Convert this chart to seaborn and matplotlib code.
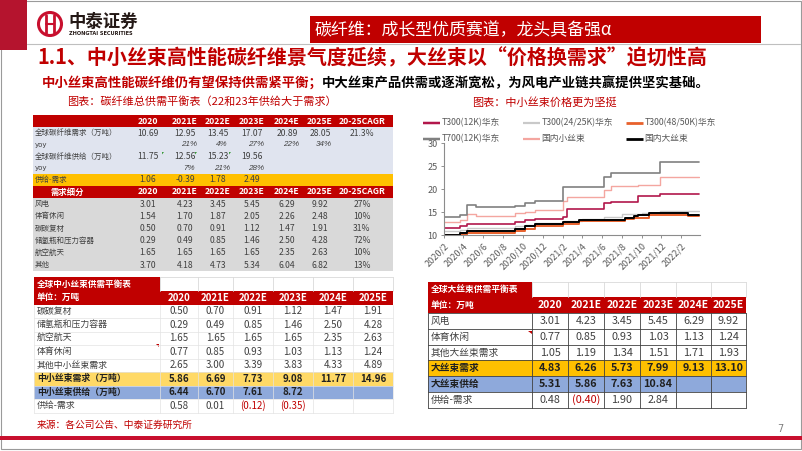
import matplotlib
matplotlib.use("Agg")
import matplotlib.pyplot as plt
from matplotlib.patches import Rectangle, Circle, Polygon
import pandas as pd
import seaborn as sns

sns.set_theme(style="white")
CJK = ["Noto Sans CJK SC", "DejaVu Sans"]
NUM = ["Liberation Sans Narrow", "Noto Sans CJK SC", "DejaVu Sans"]
plt.rcParams["font.family"] = CJK
plt.rcParams["axes.unicode_minus"] = False

RED = "#C00000"
W, H = 802, 451

# ---------------- data ----------------
years = ["2020", "2021E", "2022E", "2023E", "2024E", "2025E"]

# total carbon fibre balance
total_demand = [10.69, 12.95, 13.45, 17.07, 20.89, 28.05]
total_demand_cagr = "21.3%"
demand_yoy = ["", "21%", "4%", "27%", "22%", "34%"]
total_supply = [11.75, 12.56, 15.23, 19.56]
supply_yoy = ["", "7%", "21%", "28%"]
total_gap = [1.06, -0.39, 1.78, 2.49]
seg_labels = ["风电", "体育休闲", "碳碳复材", "储氢瓶和压力容器", "航空航天", "其他"]
seg_values = [
    [3.01, 4.23, 3.45, 5.45, 6.29, 9.92],
    [1.54, 1.70, 1.87, 2.05, 2.26, 2.48],
    [0.50, 0.70, 0.91, 1.12, 1.47, 1.91],
    [0.29, 0.49, 0.85, 1.46, 2.50, 4.28],
    [1.65, 1.65, 1.65, 1.65, 2.35, 2.63],
    [3.70, 4.18, 4.73, 5.34, 6.04, 6.82],
]
seg_cagr = ["27%", "10%", "31%", "72%", "10%", "13%"]

# small tow balance
small_labels = ["碳碳复材", "储氢瓶和压力容器", "航空航天", "体育休闲", "其他中小丝束需求"]
small_values = [
    [0.50, 0.70, 0.91, 1.12, 1.47, 1.91],
    [0.29, 0.49, 0.85, 1.46, 2.50, 4.28],
    [1.65, 1.65, 1.65, 1.65, 2.35, 2.63],
    [0.77, 0.85, 0.93, 1.03, 1.13, 1.24],
    [2.65, 3.00, 3.39, 3.83, 4.33, 4.89],
]
small_demand = [5.86, 6.69, 7.73, 9.08, 11.77, 14.96]
small_supply = [6.44, 6.70, 7.61, 8.72]
small_gap = [0.58, 0.01, -0.12, -0.35]

# large tow balance
large_labels = ["风电", "体育休闲", "其他大丝束需求"]
large_values = [
    [3.01, 4.23, 3.45, 5.45, 6.29, 9.92],
    [0.77, 0.85, 0.93, 1.03, 1.13, 1.24],
    [1.05, 1.19, 1.34, 1.51, 1.71, 1.93],
]
large_demand = [4.83, 6.26, 5.73, 7.99, 9.13, 13.10]
large_supply = [5.31, 5.86, 7.63, 10.84]
large_gap = [0.48, -0.40, 1.90, 2.84]

# price series (step change dates / prices, last point = end of data)
t300_12k_dates = ["2020-02-01", "2020-03-22", "2020-04-13", "2020-09-07", "2020-10-07", "2020-11-07",
                  "2021-02-01", "2021-02-13", "2021-06-07", "2021-06-28", "2021-09-19", "2021-11-28", "2022-03-28"]
t300_12k_price = [11.6, 12.0, 12.5, 12.8, 13.2, 13.5, 14.0, 15.7, 16.9, 17.3, 18.6, 19.0, 19.0]
t300_24k_dates = ["2020-02-01", "2020-03-22", "2020-04-13", "2020-09-07", "2020-10-07", "2020-11-07",
                  "2021-02-01", "2021-04-01", "2021-06-07", "2021-08-01", "2021-10-01", "2021-11-28", "2022-03-28"]
t300_24k_price = [10.9, 11.0, 11.6, 12.0, 12.2, 12.6, 13.1, 13.4, 14.0, 14.5, 14.9, 15.3, 15.3]
t300_48k_dates = ["2020-02-01", "2020-04-13", "2020-09-07", "2020-10-07", "2020-11-07", "2021-02-01",
                  "2021-03-22", "2021-08-10", "2021-09-07", "2021-10-25", "2022-02-22", "2022-03-28"]
t300_48k_price = [10.0, 10.4, 10.9, 11.4, 11.9, 12.4, 13.0, 13.4, 13.8, 14.4, 14.1, 14.1]
t700_12k_dates = ["2020-02-01", "2020-03-22", "2020-04-13", "2020-05-11", "2020-09-07", "2020-10-07",
                  "2020-11-07", "2021-02-01", "2021-06-07", "2021-06-28", "2021-11-28", "2022-03-28"]
t700_12k_price = [14.0, 14.3, 16.6, 16.0, 16.4, 16.9, 17.5, 20.5, 22.6, 23.5, 26.0, 26.0]
small_tow_dates = ["2020-02-01", "2020-03-22", "2020-04-13", "2020-05-11", "2020-09-07", "2020-10-07",
                   "2020-11-07", "2021-02-01", "2021-02-13", "2021-06-07", "2021-06-28", "2021-09-19",
                   "2021-11-28", "2022-03-28"]
small_tow_price = [12.8, 13.3, 14.5, 14.2, 14.7, 15.0, 15.5, 17.4, 18.2, 19.8, 20.6, 21.0, 22.6, 22.6]
large_tow_dates = ["2020-02-01", "2020-03-22", "2020-04-13", "2020-09-07", "2020-10-07", "2020-11-07",
                   "2021-02-01", "2021-03-22", "2021-08-10", "2021-09-07", "2021-09-19", "2021-10-25",
                   "2022-02-22", "2022-03-28"]
large_tow_price = [10.0, 10.5, 10.9, 11.4, 12.0, 12.4, 12.9, 13.3, 13.7, 14.1, 14.3, 14.8, 14.4, 14.4]

tick_labels = ["2020/2", "2020/4", "2020/6", "2020/8", "2020/10", "2020/12", "2021/2",
               "2021/4", "2021/6", "2021/8", "2021/10", "2021/12", "2022/2"]

series = [
    ("T300(24/25K)华东", t300_24k_dates, t300_24k_price, "#C9C9C9", 1.0),
    ("T300(48/50K)华东", t300_48k_dates, t300_48k_price, "#E8612C", 1.4),
    ("国内大丝束", large_tow_dates, large_tow_price, "#000000", 1.4),
    ("T300(12K)华东", t300_12k_dates, t300_12k_price, "#B2174B", 1.2),
    ("国内小丝束", small_tow_dates, small_tow_price, "#F4A6A0", 1.0),
    ("T700(12K)华东", t700_12k_dates, t700_12k_price, "#808080", 1.2),
]
frames = [pd.DataFrame({"date": pd.to_datetime(d), "price": p, "series": name})
          for name, d, p, _, _ in series]
prices = pd.concat(frames, ignore_index=True)

# ---------------- canvas ----------------
fig = plt.figure(figsize=(W / 100, H / 100), dpi=100)
bg = fig.add_axes([0, 0, 1, 1])
bg.set_xlim(0, W)
bg.set_ylim(H, 0)
bg.axis("off")


def box(x0, y0, x1, y1, color, ec="none", lw=0):
    bg.add_patch(Rectangle((x0, y0), x1 - x0, y1 - y0, facecolor=color, edgecolor=ec, linewidth=lw))


def txt(x, y, s, size, color="black", ha="left", weight="normal", family=None):
    bg.text(x, y, s, fontsize=size, color=color, ha=ha, va="center", fontweight=weight,
            family=family or CJK)


def fmt(v):
    return f"({abs(v):.2f})" if v < 0 else f"{v:.2f}"


# header
bg.add_patch(Rectangle((1, 1), W - 2, H - 3, fill=False, edgecolor="#9A9A9A", linewidth=0.8))
box(0, 0, 27, 50, "#B5142E")
bg.plot([27, 800], [44, 44], color="#BFBFBF", lw=0.8)
bg.add_patch(Circle((50, 24), 11.5, fill=False, edgecolor="#C8102E", linewidth=2.2))
bg.plot([46, 46], [15, 33], color="#C8102E", lw=2.0)
bg.plot([54, 54], [15, 33], color="#C8102E", lw=2.0)
bg.plot([46, 54], [24, 24], color="#C8102E", lw=1.5)
txt(68, 22, "中泰证券", 12.5, color="#231815", weight="bold")
txt(69, 33.5, "ZHONGTAI SECURITIES", 3.6, color="#231815", weight="bold", family=["DejaVu Sans"])
box(310, 16, 761, 43, RED)
txt(315, 30, "碳纤维：成长型优质赛道，龙头具备强α", 12.2, color="white")
txt(37, 58, "1.1、中小丝束高性能碳纤维景气度延续，大丝束以“价格换需求”迫切性高", 14.4, color=RED, weight="bold")
bg.text(42, 83, "中小丝束高性能碳纤维仍有望保持供需紧平衡；", fontsize=9.6, color=RED,
        fontweight="bold", va="center", family=CJK)
bg.text(322, 83, "中大丝束产品供需或逐渐宽松，为风电产业链共赢提供坚实基础。", fontsize=9.6,
        color="black", fontweight="bold", va="center", family=CJK)
txt(67, 102, "图表：碳纤维总供需平衡表（22和23年供给大于需求）", 8, color=RED)
txt(472, 102, "图表：中小丝束价格更为坚挺", 8, color=RED)

# ---------------- table 1: total balance ----------------
c1 = [148, 185, 218, 252, 287, 320, 362]
L1, R1 = 33, 393
box(L1, 115, R1, 127, RED)
box(L1, 127, R1, 174, "#E0E4EF")
box(L1, 174, R1, 186, "#FFC000")
box(L1, 186, R1, 198, RED)
box(L1, 198, R1, 271, "#D9D9D9")
for i, y in enumerate(years + ["20-25CAGR"]):
    txt(c1[i], 121, y, 6.2, color="white", ha="center", weight="bold", family=NUM)
    txt(c1[i], 192, y, 6.2, color="white", ha="center", weight="bold", family=NUM)
txt(67, 192, "需求细分", 6, color="white", ha="center", weight="bold")
txt(35, 133, "全球碳纤维需求（万吨）", 5.4, color="#404040")
for i, v in enumerate(total_demand):
    txt(c1[i], 133, f"{v:.2f}", 6.2, color="#404040", ha="center", family=NUM)
txt(c1[6], 133, total_demand_cagr, 6.2, color="#404040", ha="center", family=NUM)
txt(35, 144.7, "yoy", 5, color="#404040", family=["DejaVu Sans"])
for i, v in enumerate(demand_yoy):
    bg.text(c1[i] + 4, 144.7, v, fontsize=5.8, color="#404040", ha="center", va="center",
            style="italic", family=["Liberation Sans", "DejaVu Sans"])
txt(35, 156.5, "全球碳纤维供给（万吨）", 5.4, color="#404040")
for i, v in enumerate(total_supply):
    txt(c1[i], 156.5, f"{v:.2f}", 6.2, color="#404040", ha="center", family=NUM)
    if i > 0:
        bg.add_patch(Polygon([[c1[i] - 23, 152], [c1[i] - 21, 152], [c1[i] - 23, 154.5]],
                             color="#3A9A3A", lw=0))
txt(35, 168.2, "yoy", 5, color="#404040", family=["DejaVu Sans"])
for i, v in enumerate(supply_yoy):
    bg.text(c1[i] + 4, 168.2, v, fontsize=5.8, color="#404040", ha="center", va="center",
            style="italic", family=["Liberation Sans", "DejaVu Sans"])
txt(35, 180, "供给-需求", 5.4, color="#404040")
for i, v in enumerate(total_gap):
    txt(c1[i], 180, f"{v:.2f}", 6.2, color="#404040", ha="center", family=NUM)
for r, (lab, vals, cg) in enumerate(zip(seg_labels, seg_values, seg_cagr)):
    y = 198 + 12.2 * (r + 0.5)
    txt(35, y, lab, 5.4, color="#404040")
    for i, v in enumerate(vals):
        txt(c1[i], y, f"{v:.2f}", 6.2, color="#404040", ha="center", family=NUM)
    txt(c1[6], y, cg, 6.2, color="#404040", ha="center", family=NUM)

# ---------------- table 2: small tow ----------------
e2 = [34, 160, 198, 233, 273, 313, 353, 393]
rh2 = 13.5
top2 = 304.5
for x in e2[1:]:
    bg.plot([x, x], [277, 291], color="#D9D9D9", lw=0.6)
bg.plot([160, 393], [277, 277], color="#D9D9D9", lw=0.6)
box(34, 277, 160, 291, RED)
box(34, 291, 393, top2, RED)
txt(37, 284, "全球中小丝束供需平衡表", 6.2, color="white", weight="bold")
txt(37, 297.7, "单位：万吨", 6.2, color="white", weight="bold")
for i, y in enumerate(years):
    txt((e2[i + 1] + e2[i + 2]) / 2, 297.7, y, 7, color="white", ha="center", weight="bold", family=NUM)
rows2 = [(lab, [fmt(v) for v in vals], None, "normal") for lab, vals in zip(small_labels, small_values)]
rows2.append(("中小丝束需求（万吨）", [fmt(v) for v in small_demand], "#FFD966", "bold"))
rows2.append(("中小丝束供给（万吨）", [fmt(v) for v in small_supply], "#8EA9DB", "bold"))
rows2.append(("供给-需求", [fmt(v) for v in small_gap], None, "normal"))
for r, (lab, vals, color, wt) in enumerate(rows2):
    y0 = top2 + rh2 * r
    if color:
        box(34, y0, 393, y0 + rh2, color)
    bg.plot([34, 393], [y0 + rh2, y0 + rh2], color="#E3E3E3", lw=0.5)
    txt(37, y0 + rh2 / 2, lab, 6.4, color="#202020" if wt == "bold" else "#404040", weight=wt)
    for i, s in enumerate(vals):
        col = RED if s.startswith("(") else ("#202020" if wt == "bold" else "#404040")
        txt((e2[i + 1] + e2[i + 2]) / 2, y0 + rh2 / 2, s, 7, color=col, ha="center",
            weight=wt, family=NUM)
for x in e2:
    bg.plot([x, x], [top2, top2 + rh2 * len(rows2)], color="#E3E3E3", lw=0.5)
bg.add_patch(Polygon([[156, 344], [159, 344], [159, 347]], color=RED, lw=0))
txt(37, 425, "来源：各公司公告、中泰证券研究所", 7, color=RED)

# ---------------- table 3: large tow ----------------
e3 = [428, 532, 568, 604, 640, 676, 711, 746]
rh3 = 15.8
top3 = 313
for x in e3[1:]:
    bg.plot([x, x], [282, 297], color="#D9D9D9", lw=0.6)
bg.plot([532, 746], [282, 282], color="#D9D9D9", lw=0.6)
box(428, 282, 532, 297, RED)
box(428, 297, 746, top3, RED)
txt(431, 289.5, "全球大丝束供需平衡表", 6.3, color="white", weight="bold")
txt(431, 305, "单位：万吨", 6.3, color="white", weight="bold")
for i, y in enumerate(years):
    txt((e3[i + 1] + e3[i + 2]) / 2, 305, y, 7.5, color="white", ha="center", weight="bold", family=NUM)
rows3 = [(lab, [fmt(v) for v in vals], None, "normal") for lab, vals in zip(large_labels, large_values)]
rows3.append(("大丝束需求", [fmt(v) for v in large_demand], "#FFC000", "bold"))
rows3.append(("大丝束供给", [fmt(v) for v in large_supply], "#8EA9DB", "bold"))
rows3.append(("供给-需求", [fmt(v) for v in large_gap], None, "normal"))
for r, (lab, vals, color, wt) in enumerate(rows3):
    y0 = top3 + rh3 * r
    if color:
        box(428, y0, 746, y0 + rh3, color)
    txt(431, y0 + rh3 / 2, lab, 7, color="#202020" if wt == "bold" else "#404040", weight=wt)
    for i, s in enumerate(vals):
        col = RED if s.startswith("(") else ("#202020" if wt == "bold" else "#404040")
        txt((e3[i + 1] + e3[i + 2]) / 2, y0 + rh3 / 2, s, 7.8, color=col, ha="center",
            weight=wt, family=NUM)
bottom3 = top3 + rh3 * len(rows3)
for r in range(len(rows3) + 1):
    bg.plot([428, 746], [top3 + rh3 * r] * 2, color="#404040", lw=0.6)
for x in e3:
    bg.plot([x, x], [top3, bottom3], color="#404040", lw=0.6)
bg.add_patch(Polygon([[528, 330.5], [531.5, 330.5], [531.5, 334]], color=RED, lw=0))

# footer
box(0, 436, W, 440, "#C8102E")
txt(780, 429, "7", 7, color="#7F7F7F", ha="center", family=["DejaVu Sans"])

# ---------------- price chart ----------------
ax = fig.add_axes([444 / W, 1 - 235 / H, (700 - 444) / W, (235 - 143.3) / H])
ax.patch.set_alpha(0)
sns.lineplot(data=prices, x="date", y="price", hue="series",
             hue_order=[s[0] for s in series], palette={s[0]: s[3] for s in series},
             drawstyle="steps-post", legend=False, ax=ax)
for line, s in zip(ax.lines, series):
    line.set_linewidth(s[4])
ax.set_xlim(pd.Timestamp("2020-02-01"), pd.Timestamp("2022-03-30"))
ax.set_ylim(10, 30)
ax.set_yticks([10, 15, 20, 25, 30])
ticks = pd.date_range("2020-02-01", "2022-02-01", freq="2MS")
ax.set_xticks(ticks)
ax.set_xticklabels(tick_labels, rotation=45, ha="right", rotation_mode="anchor")
ax.tick_params(axis="both", labelsize=6.5, labelcolor="#595959", colors="#808080",
               length=2.5, width=0.6, pad=2, bottom=True, left=True)
ax.set_xlabel("")
ax.set_ylabel("")
for side in ["top", "right"]:
    ax.spines[side].set_visible(False)
for side in ["left", "bottom"]:
    ax.spines[side].set_color("#8C8C8C")
    ax.spines[side].set_linewidth(0.8)

# legend (drawn in two rows like the source)
legend_order = ["T300(12K)华东", "T300(24/25K)华东", "T300(48/50K)华东",
                "T700(12K)华东", "国内小丝束", "国内大丝束"]
style = {s[0]: (s[3], s[4]) for s in series}
lx = [423, 523, 626]
for k, name in enumerate(legend_order):
    x0 = lx[k % 3]
    y = 123 if k < 3 else 139
    col, lw = style[name]
    bg.plot([x0, x0 + 17], [y, y], color=col, lw=lw + 0.6, solid_capstyle="butt")
    txt(x0 + 18.5, y, name, 6.3, color="#595959")

fig.savefig("out.png", dpi=100)
